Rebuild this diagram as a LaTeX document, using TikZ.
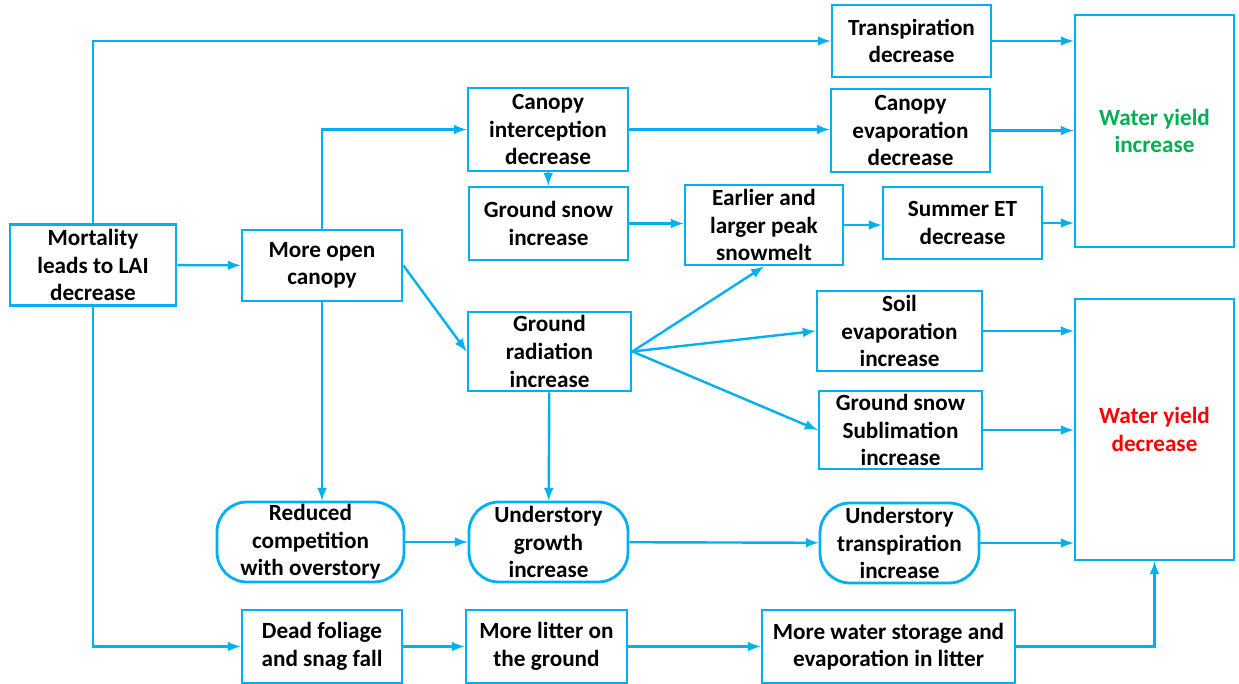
\documentclass[tikz,border=0pt]{standalone}
\usepackage{fontspec}
\setmainfont{Carlito}
\definecolor{flowblue}{RGB}{0,176,240}
\definecolor{yieldgreen}{RGB}{0,176,80}
\tikzset{
  box/.style={draw=flowblue, line width=1.4pt, align=center, inner sep=1pt,
    font=\bfseries\fontsize{11.6}{13.8}\selectfont},
  pill/.style={box, rounded corners=15pt},
  link/.style={draw=flowblue, line width=1.2pt, >=latex, ->},
}
\begin{document}
\begin{tikzpicture}[x=0.5pt,y=-0.5pt]
\useasboundingbox (0,0) rectangle (1239,684); % рамка рисунка

% левая часть
\node[box, minimum width=83pt, minimum height=40.5pt] (mort) at (93,265) {Mortality\\leads to LAI\\decrease};
\node[box, minimum width=80pt, minimum height=35.5pt] (open) at (322,265.5) {More open\\canopy};
\node[pill, minimum width=93.5pt, minimum height=40pt] (reduced) at (310.5,542) {Reduced\\competition\\with overstory};
\node[box, minimum width=80pt, minimum height=36.5pt] (dead) at (322,646.5) {Dead foliage\\and snag fall};

% средняя часть
\node[box, minimum width=80pt, minimum height=41.5pt] (intercep) at (548,129.5) {Canopy\\interception\\decrease};
\node[box, minimum width=79.5pt, minimum height=36.5pt] (gsnow) at (548.5,223.5) {Ground snow\\increase};
\node[box, minimum width=81.5pt, minimum height=39.5pt] (grad) at (549.5,351.5) {Ground\\radiation\\increase};
\node[pill, minimum width=79.5pt, minimum height=40pt] (ugrowth) at (548.5,542) {Understory\\growth\\increase};
\node[box, minimum width=80.5pt, minimum height=36.5pt] (litter) at (546.5,646.5) {More litter on\\the ground};
\node[box, minimum width=79pt, minimum height=40pt] (peak) at (764,225) {Earlier and\\larger peak\\snowmelt};

% правая часть
\node[box, minimum width=79.5pt, minimum height=36pt] (transp) at (911.5,41) {Transpiration\\decrease};
\node[box, minimum width=79.5pt, minimum height=41.5pt] (canevap) at (910.5,130.5) {Canopy\\evaporation\\decrease};
\node[box, minimum width=79.5pt, minimum height=36pt] (summer) at (962.5,223) {Summer ET\\decrease};
\node[box, minimum width=82.5pt, minimum height=40pt] (soil) at (899.5,331) {Soil\\evaporation\\increase};
\node[box, minimum width=81.5pt, minimum height=39pt] (subl) at (900.5,430) {Ground snow\\Sublimation\\increase};
\node[pill, minimum width=79.5pt, minimum height=40pt] (utransp) at (899.5,543) {Understory\\transpiration\\increase};
\node[box, minimum width=126.5pt, minimum height=36.5pt] (storage) at (888.5,646.5) {More water storage and\\evaporation in litter};
\node[box, minimum width=79.5pt, minimum height=116pt, text=yieldgreen] (wyinc) at (1154.5,131) {Water yield\\increase};
\node[box, minimum width=79.5pt, minimum height=130.5pt, text=red] (wydec) at (1154.5,429.5) {Water yield\\decrease};

% связи
\draw[link] (mort.north) |- (transp.west);
\draw[link] (mort) -- (open);
\draw[link] (mort.south) |- (dead.west);
\draw[link] (open.north) |- (intercep.west);
\draw[link] (open.east) -- (grad.west);
\draw[link] (open.south) -- (open.south |- reduced.north);
\draw[link] (intercep.east) -- (intercep.east -| canevap.west);
\draw[link] (intercep) -- (gsnow);
\draw[link] (gsnow.east) -- (gsnow.east -| peak.west);
\draw[link] (peak.east) -- (peak.east -| summer.west);
\draw[link] (grad.east) -- (peak.south);
\draw[link] (grad.east) -- (soil.west);
\draw[link] (grad.east) -- (subl.west);
\draw[link] (grad) -- (ugrowth);
\draw[link] (reduced) -- (ugrowth);
\draw[link] (ugrowth) -- (utransp);
\draw[link] (dead) -- (litter);
\draw[link] (litter) -- (storage);

% к итоговым блокам
\draw[link] (transp.east) -- (transp.east -| wyinc.west);
\draw[link] (canevap.east) -- (canevap.east -| wyinc.west);
\draw[link] (summer.east) -- (summer.east -| wyinc.west);
\draw[link] (soil.east) -- (soil.east -| wydec.west);
\draw[link] (subl.east) -- (subl.east -| wydec.west);
\draw[link] (utransp.east) -- (utransp.east -| wydec.west);
\draw[link] (storage.east) -| (wydec.south);

\end{tikzpicture}
\end{document}
